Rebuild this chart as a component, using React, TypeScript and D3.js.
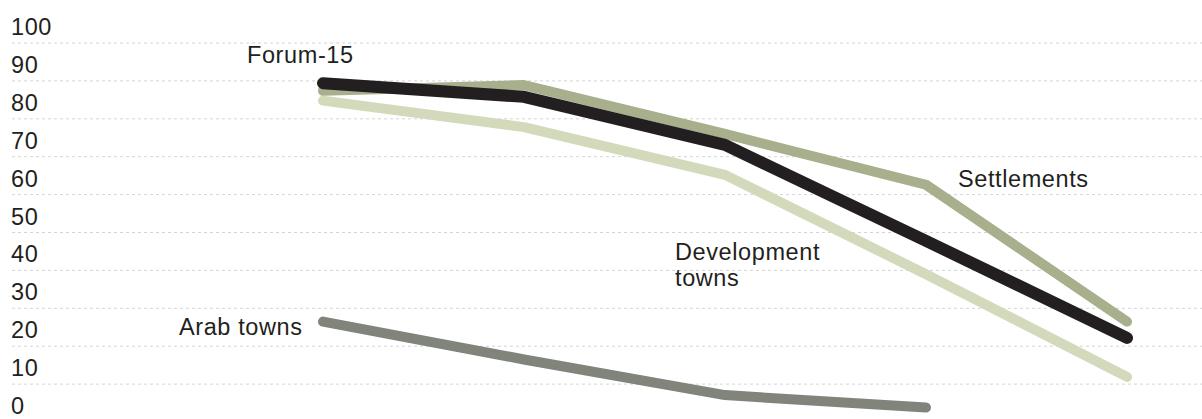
import React, { useEffect, useRef } from 'react';
import * as d3 from 'd3';

// five survey points, no axis labels shown on the original
const steps = [0, 1, 2, 3, 4];
const ticks = [0, 10, 20, 30, 40, 50, 60, 70, 80, 90, 100];

const forum15 = [89.4, 85.8, 73.1, 47.8, 22.2];
const settlements = [87.4, 88.9, 76.0, 62.6, 26.5];
const developmentTowns = [84.8, 77.8, 65.2, 39.0, 11.9];
const arabTowns = [26.5, 16.5, 7.1, 3.8];

const seriesNames = ['Development towns', 'Settlements', 'Arab towns', 'Forum-15'];

const App = () => {
  const ref = useRef<SVGSVGElement>(null);

  useEffect(() => {
    const width = 1202;
    const font = '"Liberation Sans", Arial, Helvetica, sans-serif';
    const fontSize = 23.5;
    const spacing = 0.6;
    const ink = '#231f20';

    const svg = d3.select(ref.current);
    svg.selectAll('*').remove();

    const x = d3.scaleLinear().domain([0, 4]).range([323, 1127]);
    const y = d3.scaleLinear().domain([0, 100]).range([422, 43]);

    // dashed gridlines
    svg.append('g')
      .selectAll('line')
      .data(ticks.filter(t => t > 0))
      .enter().append('line')
      .attr('x1', 12)
      .attr('x2', width)
      .attr('y1', d => y(d))
      .attr('y2', d => y(d))
      .attr('stroke', '#d4d4d4')
      .attr('stroke-width', 1)
      .attr('stroke-dasharray', '3,3');

    // tick labels sit above their line
    svg.append('g')
      .selectAll('text')
      .data(ticks)
      .enter().append('text')
      .attr('x', 11)
      .attr('y', d => y(d) - 8)
      .attr('font-family', font)
      .attr('font-size', fontSize)
      .attr('letter-spacing', spacing)
      .attr('fill', ink)
      .text(d => d);

    const line = d3.line<number>()
      .x((d, i) => x(steps[i]))
      .y(d => y(d));

    const series = [
      { name: seriesNames[0], values: developmentTowns, color: '#d3dabb', w: 10 },
      { name: seriesNames[1], values: settlements, color: '#a7af8c', w: 10 },
      { name: seriesNames[2], values: arabTowns, color: '#80847b', w: 10 },
      { name: seriesNames[3], values: forum15, color: ink, w: 12 },
    ];

    svg.append('g')
      .selectAll('path')
      .data(series)
      .enter().append('path')
      .attr('d', d => line(d.values))
      .attr('fill', 'none')
      .attr('stroke', d => d.color)
      .attr('stroke-width', d => d.w)
      .attr('stroke-linecap', 'round')
      .attr('stroke-linejoin', 'round');

    // direct labels
    const labels = [
      { lines: ['Forum-15'], x: 247, y: 63 },
      { lines: ['Settlements'], x: 958, y: 187 },
      { lines: ['Development', 'towns'], x: 675, y: 260 },
      { lines: ['Arab towns'], x: 179, y: 335 },
    ];
    labels.forEach(l => {
      const t = svg.append('text')
        .attr('x', l.x)
        .attr('y', l.y)
        .attr('font-family', font)
        .attr('font-size', fontSize)
        .attr('letter-spacing', spacing)
        .attr('fill', ink);
      l.lines.forEach((s, i) => {
        t.append('tspan')
          .attr('x', l.x)
          .attr('dy', i === 0 ? 0 : 26)
          .text(s);
      });
    });
  }, []);

  return (
    <svg
      ref={ref}
      width={1202}
      height={419}
      style={{ position: 'absolute', left: 0, top: 0, background: '#fff' }}
    />
  );
};

export default App;
